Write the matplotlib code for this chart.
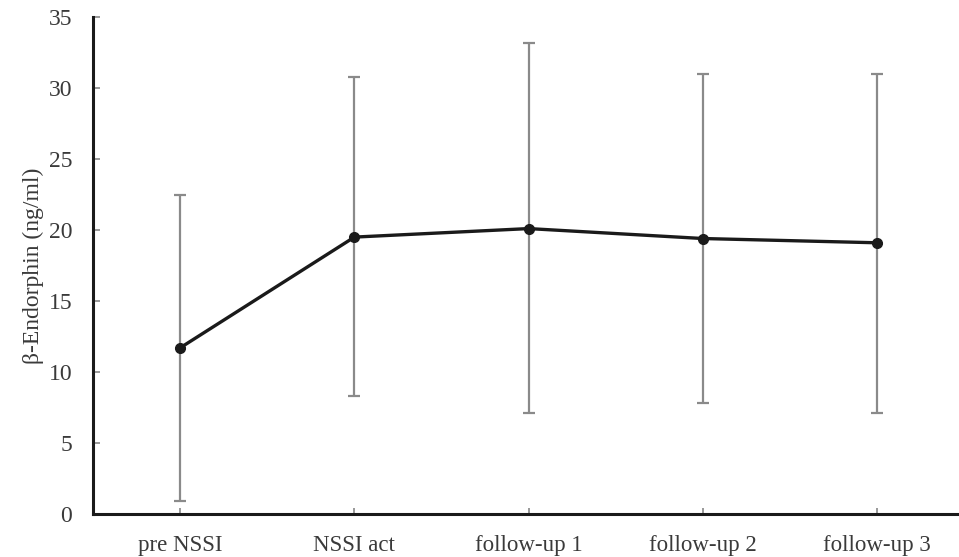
import matplotlib.pyplot as plt
import numpy as np

plt.rcParams['font.family'] = ['Liberation Serif', 'DejaVu Serif']

phases = ["pre NSSI", "NSSI act", "follow-up 1", "follow-up 2", "follow-up 3"]
means = [11.7, 19.5, 20.1, 19.4, 19.1]
upper = [22.5, 30.8, 33.2, 31.0, 31.0]
lower = [0.9, 8.3, 7.1, 7.8, 7.1]

x = np.arange(len(phases))
means_arr = np.array(means)
yerr = [means_arr - np.array(lower), np.array(upper) - means_arr]

fig = plt.figure(figsize=(9.59, 5.57), dpi=100)
ax = fig.add_axes([93 / 959, 43 / 557, 1 - 93 / 959, 497 / 557])

ax.errorbar(x, means, yerr=yerr, fmt='none', ecolor='#8a8a8a',
            elinewidth=1.6, capsize=4, capthick=1.6, zorder=2)
ax.plot(x, means, color='#1a1a1a', lw=2.4, marker='o', ms=7, zorder=3)

ax.set_xlim(-0.5, 4.47)
ax.set_ylim(0, 35)
ax.set_yticks(np.arange(0, 36, 5))
ax.set_xticks(x)
ax.set_xticklabels(phases)

for s in ['top', 'right']:
    ax.spines[s].set_visible(False)
for s in ['left', 'bottom']:
    ax.spines[s].set_linewidth(2.2)
    ax.spines[s].set_color('#1a1a1a')

ax.tick_params(axis='y', direction='in', length=5, width=1.2, color='#888888',
               labelsize=17, labelcolor='#3a3a3a', pad=15)
ax.tick_params(axis='x', direction='in', length=4, width=1.2, color='#888888',
               labelsize=16.5, labelcolor='#3a3a3a', pad=15)

ax.set_ylabel("β-Endorphin (ng/ml)", fontsize=17, color='#3a3a3a', labelpad=3)

fig.savefig("out.png", dpi=100)
